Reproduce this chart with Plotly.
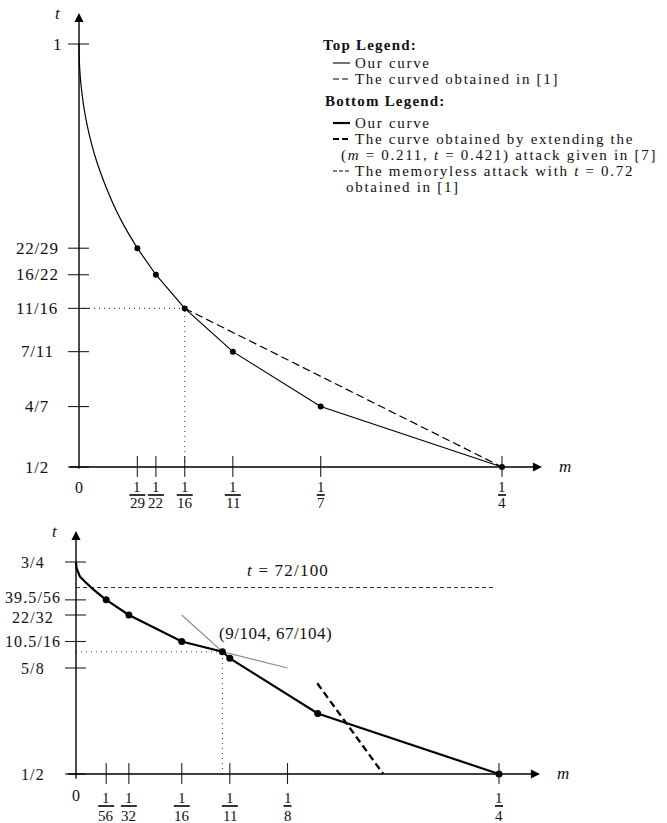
import plotly.graph_objects as go

# ================= DATA =================
# ---- top panel ----
top_curve_m = [0.0, 0.0001, 0.0003, 0.0010, 0.0019, 0.0028, 0.0039, 0.0047,
               0.0058, 0.0073, 0.0094, 0.0127, 0.0179, 0.0217, 0.0270, 1/29]
top_curve_t = [1.0, 0.9859, 0.9755, 0.9553, 0.9395, 0.9261, 0.9134, 0.9052,
               0.8953, 0.8832, 0.8679, 0.8481, 0.8214, 0.8043, 0.7838, 22/29]
top_pts_m = [1/29, 1/22, 1/16, 1/11, 1/7, 1/4]
top_pts_t = [22/29, 16/22, 11/16, 7/11, 4/7, 1/2]
top_prev_m = [1/16, 1/4]
top_prev_t = [11/16, 1/2]
top_guide_m = 1/16
top_guide_t = 11/16
top_ytick_vals = [1, 22/29, 16/22, 11/16, 7/11, 4/7, 1/2]
top_ytick_text = ["1", "22/29", "16/22", "11/16", "7/11", "4/7", "1/2"]
top_xtick_vals = [1/29, 1/22, 1/16, 1/11, 1/7, 1/4]
top_xtick_den = ["29", "22", "16", "11", "7", "4"]

# ---- bottom panel ----
bot_curve_m = [0.0, 0.0004, 0.0014, 0.0024, 0.0063, 0.0102, 1/56]
bot_curve_t = [0.75, 0.7426, 0.7374, 0.7327, 0.7249, 0.7178, 39.5/56]
bot_pts_m = [1/56, 1/32, 1/16, 9/104, 1/11, 1/7, 1/4]
bot_pts_t = [39.5/56, 22/32, 10.5/16, 67/104, 7/11, 4/7, 1/2]
bot_ext_m = [0.1426, 0.1816]
bot_ext_t = [0.607, 0.5]
bot_memless_m = [0.0, 0.2476]
bot_memless_t = [0.72, 0.72]
bot_tan1_m = [1/16, 1/11]
bot_tan1_t = [11/16, 7/11]
bot_tan2_m = [1/16, 1/8]
bot_tan2_t = [10.5/16, 5/8]
bot_guide_m = 9/104
bot_guide_t = 67/104
bot_ytick_vals = [3/4, 39.5/56, 22/32, 10.5/16, 5/8, 1/2]
bot_ytick_text = ["3/4", "39.5/56", "22/32", "10.5/16", "5/8", "1/2"]
bot_xtick_vals = [1/56, 1/32, 1/16, 1/11, 1/8, 1/4]
bot_xtick_den = ["56", "32", "16", "11", "8", "4"]

# ================= LAYOUT CONSTANTS =================
W, H = 667, 823
FONT = "Liberation Serif"
TXT = "#111"
# pixel of origin (m=0, t=1/2) and pixels per unit
TOP_OX, TOP_OY, TOP_SX, TOP_SY = 79, 467, 1692, 846
BOT_OX, BOT_OY, BOT_SX, BOT_SY = 76, 774, 1692, 848


def rx(ox, sx):
    return [-ox / sx, (W - ox) / sx]


def ry(oy, sy):
    return [0.5 - (H - oy) / sy, 0.5 + oy / sy]


def ls(s, px):
    return f'<span style="letter-spacing:{px}px">{s}</span>'


fig = go.Figure()


def line_trace(xs, ys, ax, width, color="black", dash=None, shape="linear", mode="lines", msize=6):
    xa, ya = ax
    fig.add_trace(go.Scatter(
        x=xs, y=ys, mode=mode, xaxis=xa, yaxis=ya, hoverinfo="skip", showlegend=False,
        line=dict(color=color, width=width, dash=dash, shape=shape, smoothing=0.8 if shape == "spline" else None),
        marker=dict(size=msize, color="black"), cliponaxis=False))


TOP = ("x", "y")
BOT = ("x2", "y2")

# ---- top panel marks ----
line_trace([0, top_guide_m, None, top_guide_m, top_guide_m],
           [top_guide_t, top_guide_t, None, 0.5, top_guide_t], TOP, 1.1, "#444", "1px,4px")
line_trace(top_prev_m, top_prev_t, TOP, 1.2, "black", "8px,4px")
line_trace(top_curve_m, top_curve_t, TOP, 1.2, "black", shape="spline")
line_trace(top_pts_m, top_pts_t, TOP, 1.2, "black", mode="lines+markers", msize=6)

# ---- bottom panel marks ----
line_trace(bot_tan1_m, bot_tan1_t, BOT, 1.1, "#8a8a8a")
line_trace(bot_tan2_m, bot_tan2_t, BOT, 1.1, "#8a8a8a")
line_trace([0, bot_guide_m, None, bot_guide_m, bot_guide_m],
           [bot_guide_t, bot_guide_t, None, 0.5, bot_guide_t], BOT, 1.1, "#444", "1px,4px")
line_trace(bot_memless_m, bot_memless_t, BOT, 1.1, "#333", "4px,3px")
line_trace(bot_ext_m, bot_ext_t, BOT, 2.3, "black", "7px,4px")
line_trace(bot_curve_m, bot_curve_t, BOT, 2.2, "black", shape="spline")
line_trace(bot_pts_m, bot_pts_t, BOT, 2.2, "black", mode="lines+markers", msize=7)

annotations = []
shapes = []


def axis_arrow(xr, yr, x, y, axv, ayv):
    annotations.append(dict(x=x, y=y, ax=axv, ay=ayv, xref=xr, yref=yr, axref=xr, ayref=yr,
                            text="", showarrow=True, arrowhead=2, arrowsize=1.3,
                            arrowwidth=1.4, arrowcolor="black", standoff=0, startstandoff=0))


def text(xr, yr, x, y, s, size=17, xshift=0, yshift=0, xanchor="center", yanchor="middle"):
    annotations.append(dict(x=x, y=y, xref=xr, yref=yr, text=s, showarrow=False,
                            xshift=xshift, yshift=yshift, xanchor=xanchor, yanchor=yanchor,
                            font=dict(family=FONT, size=size, color=TXT)))


def panel(ax, ox, oy, sx, sy, yvals, ytext, ylab_dx, ysize, yls, ynudge, xvals, xden, xl_dy,
          tip_x_px, tip_y_px, tail_x_px, tail_y_px, one_special):
    xr, yr = ax
    # axes with arrows
    axis_arrow(xr, yr, (tip_x_px - ox) / sx, 0.5, (tail_x_px - ox) / sx, 0.5)
    axis_arrow(xr, yr, 0, 0.5 + (oy - tip_y_px) / sy, 0, 0.5 - (tail_y_px - oy) / sy)
    text(xr, yr, 0, 0.5 + (oy - tip_y_px) / sy, "<i>t</i>", 17, xshift=-21, yshift=0)
    text(xr, yr, (tip_x_px - ox) / sx, 0.5, "<i>m</i>", 17, xshift=23, yshift=1)
    # y ticks
    for v, s in zip(yvals, ytext):
        shapes.append(dict(type="line", xref=xr, yref=yr, xsizemode="pixel", xanchor=0,
                           x0=-11, x1=10, y0=v, y1=v, line=dict(color="#222", width=1.1)))
        if one_special and s == "1":
            text(xr, yr, 0, v, s, ysize, xshift=-21.5)
        else:
            text(xr, yr, 0, v, ls(s, yls), ysize, xshift=ylab_dx, yshift=ynudge.get(s, 0))
    # x ticks with fraction labels
    text(xr, yr, 0, 0.5, "0", 16, yshift=-xl_dy[0])
    for v, d in zip(xvals, xden):
        shapes.append(dict(type="line", xref=xr, yref=yr, ysizemode="pixel", yanchor=0.5,
                           y0=-10, y1=11, x0=v, x1=v, line=dict(color="#222", width=1.1)))
        text(xr, yr, v, 0.5, "1", 15, yshift=-xl_dy[1])
        half = 8 if len(d) > 1 else 4
        shapes.append(dict(type="line", xref=xr, yref=yr, xsizemode="pixel", xanchor=v,
                           x0=-half, x1=half, ysizemode="pixel", yanchor=0.5,
                           y0=-xl_dy[2], y1=-xl_dy[2], line=dict(color="black", width=1.6)))
        text(xr, yr, v, 0.5, d, 15, yshift=-xl_dy[3])


panel(TOP, TOP_OX, TOP_OY, TOP_SX, TOP_SY, top_ytick_vals, top_ytick_text, -42, 17, 0.8, {},
      top_xtick_vals, top_xtick_den, (20, 20, 28, 36), 542, 13, 68, 470, True)
panel(BOT, BOT_OX, BOT_OY, BOT_SX, BOT_SY, bot_ytick_vals, bot_ytick_text, -43, 16, 1.1,
      {"39.5/56": 2, "22/32": -2},
      bot_xtick_vals, bot_xtick_den, (21, 24, 32, 42), 540, 531, 66, 780, False)

# in-plot labels (bottom)
text("x2", "y2", 0.125, bot_memless_t[0], ls("<i>t</i> = 72/100", 1.2), 17, yshift=17)
text("x2", "y2", bot_guide_m, bot_guide_t, ls("(9/104, 67/104)", 0.5), 17, xshift=53, yshift=18)


# ---- legend (drawn as annotations + sample lines) ----
def P(xp, yp):
    return xp / W, 1 - yp / H


LEG_SIZE, LEG_LS = 15, 1.7


def leg_text(xp, yp, s, lsp=LEG_LS):
    x, y = P(xp, yp)
    annotations.append(dict(x=x, y=y, xref="paper", yref="paper", text=ls(s, lsp), showarrow=False,
                            xanchor="left", yanchor="middle",
                            font=dict(family=FONT, size=LEG_SIZE, color=TXT)))


def leg_line(yp, width, dash=None):
    x0, y0 = P(333, yp)
    x1, _ = P(350, yp)
    shapes.append(dict(type="line", xref="paper", yref="paper", x0=x0, x1=x1, y0=y0, y1=y0,
                       line=dict(color="black", width=width, dash=dash)))


leg_text(321, 45, "<b>Top Legend:</b>", 1.2)
leg_line(63, 1.1)
leg_text(353, 63, "Our curve")
leg_line(79, 1.1, "6px,3px")
leg_text(353, 79, "The curved obtained in [1]")
leg_text(323, 101, "<b>Bottom Legend:</b>", 1.2)
leg_line(123, 2.2)
leg_text(353, 123, "Our curve")
leg_line(139, 2.2, "6px,3px")
leg_text(353, 139, "The curve obtained by extending the")
leg_text(339, 155, "(<i>m</i> = 0.211, <i>t</i> = 0.421) attack given in [7]")
leg_line(171, 1.1, "4px,2px")
leg_text(353, 171, "The memoryless attack with <i>t</i> = 0.72")
leg_text(344, 187, "obtained in [1]")

axis_common = dict(domain=[0, 1], visible=False, fixedrange=True)
fig.update_layout(
    width=W, height=H, margin=dict(l=0, r=0, t=0, b=0),
    paper_bgcolor="white", plot_bgcolor="rgba(0,0,0,0)",
    showlegend=False,
    xaxis=dict(range=rx(TOP_OX, TOP_SX), anchor="y", **axis_common),
    yaxis=dict(range=ry(TOP_OY, TOP_SY), anchor="x", **axis_common),
    xaxis2=dict(range=rx(BOT_OX, BOT_SX), anchor="y2", **axis_common),
    yaxis2=dict(range=ry(BOT_OY, BOT_SY), anchor="x2", **axis_common),
    annotations=annotations, shapes=shapes,
)

fig.write_html("out.html", config={"displayModeBar": False},
               post_script="document.body.style.margin='0';document.body.style.overflow='hidden';")
